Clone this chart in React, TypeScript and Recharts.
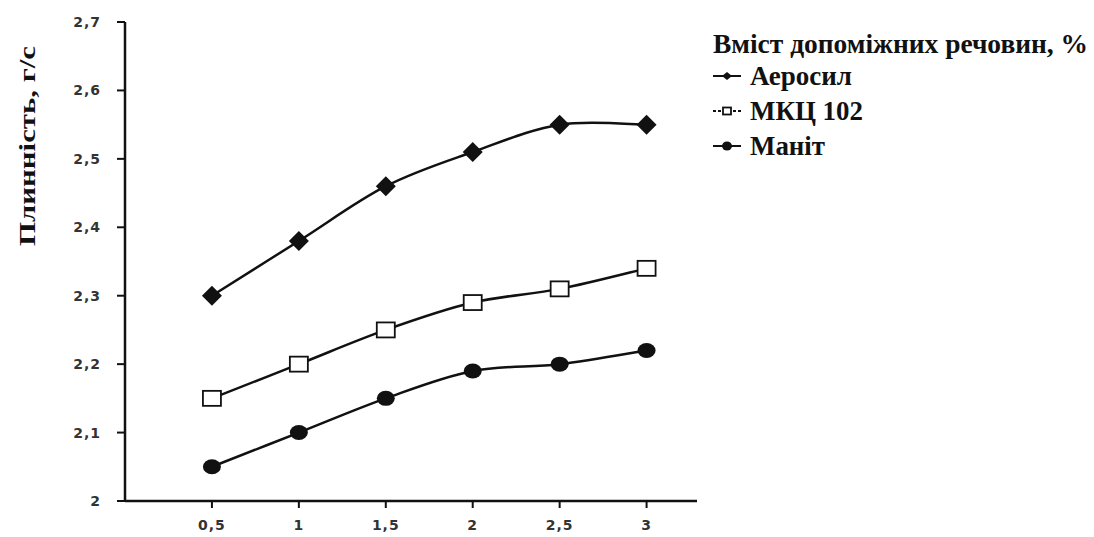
import React from 'react';
import { LineChart, Line, XAxis, YAxis } from 'recharts';

const doses = [0.5, 1, 1.5, 2, 2.5, 3];
const aerosil = [2.3, 2.38, 2.46, 2.51, 2.55, 2.55];
const mcc102 = [2.15, 2.2, 2.25, 2.29, 2.31, 2.34];
const mannitol = [2.05, 2.1, 2.15, 2.19, 2.2, 2.22];
const yTicks = [2, 2.1, 2.2, 2.3, 2.4, 2.5, 2.6, 2.7];

const seriesNames = ['Аеросил', 'МКЦ 102', 'Маніт'];
const legendTitle = 'Вміст допоміжних речовин, %';
const yTitle = 'Плинність, г/с';

const data = doses.map((d, i) => ({
  dose: d,
  aerosil: aerosil[i],
  mcc: mcc102[i],
  mannitol: mannitol[i],
}));

const INK = '#111';
const SERIF = "'Liberation Serif', 'Times New Roman', serif";
const comma = (v: number) => String(v).replace('.', ',');

const TICK_STYLE = {
  fill: '#333',
  fontSize: 14,
  fontWeight: 700,
  letterSpacing: 1,
  fontFamily: "'DejaVu Sans', Verdana, sans-serif",
};

// excel-like smoothed line (catmull-rom through the points)
function smoothCurve(context: any) {
  let pts: number[][] = [];
  return {
    areaStart() {},
    areaEnd() {},
    lineStart() {
      pts = [];
    },
    point(x: number, y: number) {
      pts.push([+x, +y]);
    },
    lineEnd() {
      if (!pts.length) return;
      context.moveTo(pts[0][0], pts[0][1]);
      for (let i = 0; i < pts.length - 1; i++) {
        const p0 = pts[i - 1] || pts[i];
        const p1 = pts[i];
        const p2 = pts[i + 1];
        const p3 = pts[i + 2] || p2;
        context.bezierCurveTo(
          p1[0] + (p2[0] - p0[0]) / 6,
          p1[1] + (p2[1] - p0[1]) / 6,
          p2[0] - (p3[0] - p1[0]) / 6,
          p2[1] - (p3[1] - p1[1]) / 6,
          p2[0],
          p2[1]
        );
      }
    },
  };
}

function Diamond({ cx, cy, sx = 10, sy = 10 }: any) {
  if (cx == null || cy == null) return null;
  return (
    <polygon
      points={`${cx},${cy - sy} ${cx + sx},${cy} ${cx},${cy + sy} ${cx - sx},${cy}`}
      fill={INK}
    />
  );
}

function Square({ cx, cy, w = 18, h = 15 }: any) {
  if (cx == null || cy == null) return null;
  return (
    <rect x={cx - w / 2} y={cy - h / 2} width={w} height={h} fill="#fff" stroke={INK} strokeWidth={1.8} />
  );
}

function Dot({ cx, cy, rx = 9, ry = 7.5 }: any) {
  if (cx == null || cy == null) return null;
  return <ellipse cx={cx} cy={cy} rx={rx} ry={ry} fill={INK} />;
}

function YTitle() {
  const x = 35;
  const y = 146;
  return (
    <text
      x={x}
      y={y}
      transform={`rotate(-90, ${x}, ${y})`}
      textAnchor="middle"
      fontFamily={SERIF}
      fontWeight={700}
      fontSize={23}
      textLength={200}
      lengthAdjust="spacingAndGlyphs"
      fill={INK}
    >
      {yTitle}
    </text>
  );
}

const legendBaselines = [85, 120, 155];
const legendWidths = [102, 113, 75];

function ChartLegend() {
  return (
    <svg
      width={1094}
      height={200}
      style={{ position: 'absolute', left: 0, top: 0, pointerEvents: 'none' }}
    >
      <text
        x={713}
        y={53}
        fontFamily={SERIF}
        fontWeight={700}
        fontSize={27}
        textLength={375}
        lengthAdjust="spacingAndGlyphs"
        fill={INK}
      >
        {legendTitle}
      </text>
      {seriesNames.map((n, i) => {
        const by = legendBaselines[i];
        const cy = by - 9;
        return (
          <g key={n}>
            <line
              x1={713}
              y1={cy}
              x2={741}
              y2={cy}
              stroke={INK}
              strokeWidth={2}
              strokeDasharray={i === 1 ? '3 2' : undefined}
            />
            {i === 0 && <Diamond cx={727} cy={cy} sx={5} sy={4} />}
            {i === 1 && <Square cx={727} cy={cy} w={8} h={7} />}
            {i === 2 && <Dot cx={727} cy={cy} rx={5} ry={4.5} />}
            <text
              x={750}
              y={by}
              fontFamily={SERIF}
              fontWeight={700}
              fontSize={27}
              textLength={legendWidths[i]}
              lengthAdjust="spacingAndGlyphs"
              fill={INK}
            >
              {n}
            </text>
          </g>
        );
      })}
    </svg>
  );
}

export default function App() {
  return (
    <div style={{ position: 'relative', width: 1094, height: 537, background: '#fff' }}>
      <style>{`body{margin:0}`}</style>
      <LineChart
        width={1094}
        height={537}
        data={data}
        margin={{ top: 22, right: 397, bottom: 0, left: 0 }}
      >
        <XAxis
          dataKey="dose"
          type="number"
          domain={[0, 3.29]}
          ticks={doses}
          tickFormatter={comma}
          height={36}
          axisLine={{ stroke: INK, strokeWidth: 2.5 }}
          tickLine={{ stroke: INK, strokeWidth: 2 }}
          tickSize={7}
          tickMargin={12}
          tick={TICK_STYLE}
        />
        <YAxis
          type="number"
          domain={[2, 2.7]}
          ticks={yTicks}
          tickFormatter={comma}
          width={125}
          interval={0}
          axisLine={{ stroke: INK, strokeWidth: 2.5 }}
          tickLine={{ stroke: INK, strokeWidth: 2 }}
          tickSize={8}
          tickMargin={16}
          tick={TICK_STYLE}
          label={<YTitle />}
        />
        <Line
          type={smoothCurve as any}
          dataKey="aerosil"
          name={seriesNames[0]}
          stroke={INK}
          strokeWidth={2.5}
          dot={<Diamond />}
          isAnimationActive={false}
        />
        <Line
          type={smoothCurve as any}
          dataKey="mcc"
          name={seriesNames[1]}
          stroke={INK}
          strokeWidth={2.5}
          dot={<Square />}
          isAnimationActive={false}
        />
        <Line
          type={smoothCurve as any}
          dataKey="mannitol"
          name={seriesNames[2]}
          stroke={INK}
          strokeWidth={2.5}
          dot={<Dot />}
          isAnimationActive={false}
        />
      </LineChart>
      <ChartLegend />
    </div>
  );
}
